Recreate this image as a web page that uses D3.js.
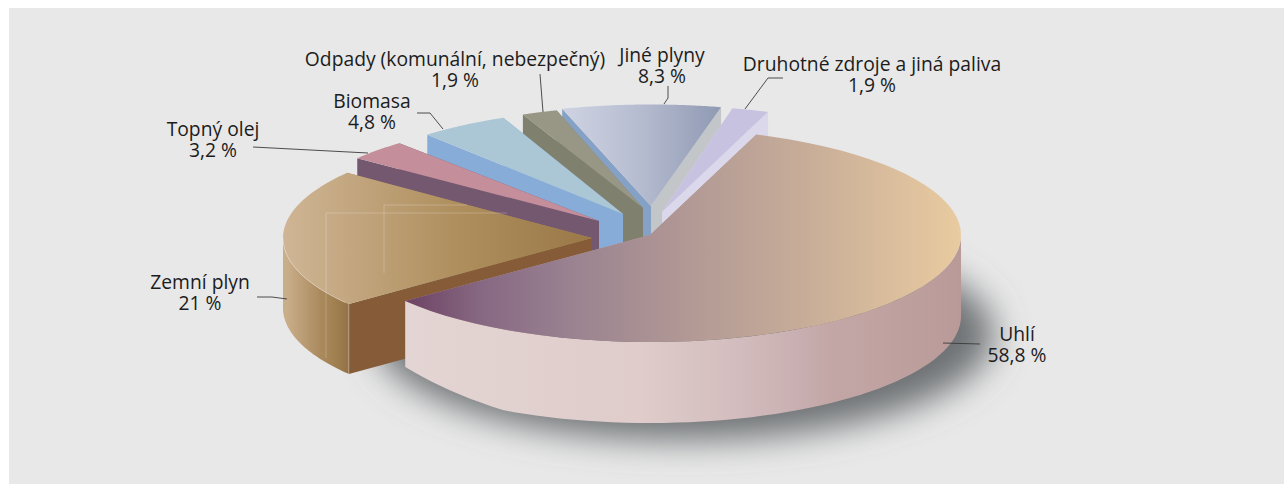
<!DOCTYPE html>
<html><head><meta charset="utf-8">
<script src="https://cdn.jsdelivr.net/npm/d3@7/dist/d3.min.js"></script>
<style>html,body{margin:0;padding:0;background:#fff}svg{display:block}</style>
</head><body><svg id="c" width="1284" height="484"></svg>
<script>
const categories = ["Uhlí","Zemní plyn","Topný olej","Biomasa","Odpady (komunální, nebezpečný)","Jiné plyny","Druhotné zdroje a jiná paliva"];
const shareLabels = ["58,8 %","21 %","3,2 %","4,8 %","1,9 %","8,3 %","1,9 %"];
const shares = [58.8,21,3.2,4.8,1.9,8.3,1.9];

// layout (separate from the data)
const centerX = [650,592,599,623,643,651,662];
const centerY = [235,238,221,214,208,206,212];
const radiusX = [311,309,305,299,300,308,310];
const radiusY = [107,107,103,105,102,101.5,106.5];
const depths  = [81,70,80,80,80,80,80];
const paintOrder = [5,6,4,3,2,1,0];
const labelX = [1017,200,213,372,455,662,872];
const labelY = [341,289,136,108,66,62,71];
const leaders = [
 [[943,343],[980,344]],
 [[257,297],[272,297],[287,299]],
 [[253,147],[368,153]],
 [[417,113],[430,113],[443,129]],
 [[540,74],[543,112]],
 [[668,86],[668,98],[664,104]],
 [[783,78],[768,78],[745,109]]
];
const topStops = [
 [[410,"#6f4565"],[480,"#866882"],[570,"#9a8291"],[700,"#b49b95"],[800,"#c6ac98"],[900,"#dcbf9d"],[961,"#e9cba0"]],
 [[285,"#cfb595"],[450,"#b0905f"],[592,"#9a7848"]],
 [[355,"#c48e9b"],[600,"#c48e9b"]],
 [[426,"#abc7d5"],[623,"#abc7d5"]],
 [[521,"#989684"],[644,"#989684"]],
 [[562,"#cfd3e3"],[640,"#b6bcd0"],[722,"#8f99b3"]],
 [[662,"#c7c2e0"],[767,"#c7c2e0"]]
];
const wallStops = [
 [[410,"#e3d5d3"],[640,"#dfcccb"],[740,"#d3bcbd"],[800,"#c8aeb0"],[830,"#c3a7a6"],[961,"#b99a98"]],
 [[287,"#c9ae8a"],[320,"#ab8a5e"],[335,"#a18050"],[348,"#937347"]],
 [[0,"#745870"],[1,"#745870"]],[[0,"#88acd8"],[1,"#88acd8"]],[[0,"#80806f"],[1,"#80806f"]],[[0,"#85a2c6"],[1,"#85a2c6"]],[[0,"#dcd8ec"],[1,"#dcd8ec"]]
];
// colour of the cut faces: [face at start angle, face at end angle]
const faceFill = [["#b99a98","#b99a98"],["#865b37","#a5855a"],["#745870","#745870"],["#88acd8","#88acd8"],["#80806f","#80806f"],["#85a2c6","#c3c6c8"],["#dcd8ec","#dcd8ec"]];

const svg = d3.select("#c");
const defs = svg.append("defs");
const rad = d => d*Math.PI/180;
const pie = d3.pie().sort(null).startAngle(rad(20)).endAngle(rad(380));
const arcs = pie(shares);

function grad(id, stops){
  const x0 = stops[0][0], x1 = stops[stops.length-1][0];
  const g = defs.append("linearGradient").attr("id",id).attr("gradientUnits","userSpaceOnUse")
    .attr("x1",x0).attr("x2",x1).attr("y1",0).attr("y2",0);
  stops.forEach(s=>g.append("stop").attr("offset",(s[0]-x0)/(x1-x0)).attr("stop-color",s[1]));
}
topStops.forEach((s,i)=>grad("top"+i,s));
wallStops.forEach((s,i)=>grad("wall"+i,s));
const bl1 = defs.append("filter").attr("id","b1").attr("x","-30%").attr("y","-50%").attr("width","160%").attr("height","200%");
bl1.append("feGaussianBlur").attr("stdDeviation",17);

svg.append("rect").attr("x",9).attr("y",8).attr("width",1275).attr("height",476).attr("fill","#e8e8e8");

const line = d3.line();
function rimPoint(i,a){
  const x = d3.scaleLinear().domain([-1,1]).range([centerX[i]-radiusX[i],centerX[i]+radiusX[i]]);
  const y = d3.scaleLinear().domain([-1,1]).range([centerY[i]+radiusY[i],centerY[i]-radiusY[i]]);
  return [x(Math.sin(a)),y(Math.cos(a))];
}
function depthAt(i,a){
  if(i!==0) return depths[i];
  const t = Math.max(0,Math.min(1,(a-rad(208))/(rad(231.7)-rad(208))));
  return depths[i]-15*t;
}
const samples = (a0,a1) => d3.range(0,61).map(k=>a0+(a1-a0)*k/60);

// ground shadow
svg.append("ellipse").attr("cx",684).attr("cy",334).attr("rx",310).attr("ry",106).attr("fill","#6e7275").attr("filter","url(#b1)");

const pieG = svg.append("g");
paintOrder.forEach(i=>{
  const d = arcs[i], g = pieG.append("g"), a0=d.startAngle, a1=d.endAngle, h=depths[i];
  const apex=[centerX[i],centerY[i]], p0=rimPoint(i,a0), p1=rimPoint(i,a1);
  const down=(p,dd)=>[p[0],p[1]+dd];
  // cut faces
  g.append("path").attr("d",line([apex,p1,down(p1,depthAt(i,a1)),down(apex,h)])+"Z").attr("fill",faceFill[i][1]);
  g.append("path").attr("d",line([apex,p0,down(p0,depthAt(i,a0)),down(apex,h)])+"Z").attr("fill",faceFill[i][0]);
  // front-facing rim wall
  const w0=Math.max(a0,rad(90)), w1=Math.min(a1,rad(270));
  if(w1>w0){
    const top=samples(w0,w1).map(a=>rimPoint(i,a));
    const bot=samples(w1,w0).map(a=>down(rimPoint(i,a),depthAt(i,a)));
    g.append("path").attr("d",line(top.concat(bot))+"Z").attr("fill",`url(#wall${i})`);
  }
  // top face
  const rim=samples(a0,a1).map(a=>rimPoint(i,a));
  g.append("path").attr("d",line([apex].concat(rim))+"Z").attr("fill",`url(#top${i})`);
  if(i===1){
    // light highlights and faint artefact lines seen on the gas slice
    g.append("path").attr("d",line(samples(rad(233),rad(270)).map(a=>rimPoint(i,a)))).attr("fill","none").attr("stroke","#fff").attr("stroke-opacity",.3);
    g.append("path").attr("d",line([p0,down(p0,h)])).attr("stroke","#fff").attr("stroke-opacity",.3);
    g.append("path").attr("d","M326 358V213H507M384 273V205H467").attr("fill","none").attr("stroke","#fff").attr("stroke-opacity",.22);
  }
});

// leader lines
svg.append("g").selectAll("path").data(leaders).join("path")
  .attr("d",d=>line(d)).attr("fill","none").attr("stroke","#3a3a3a").attr("stroke-width",.9);

// labels
const txt = svg.append("g").attr("font-family","'Open Sans',sans-serif").attr("font-size",19.3).attr("fill","#1c1c1c").attr("text-anchor","middle");
categories.forEach((c,i)=>{
  txt.append("text").attr("x",labelX[i]).attr("y",labelY[i]).text(c);
  txt.append("text").attr("x",labelX[i]).attr("y",labelY[i]+21).text(shareLabels[i]);
});
</script></body></html>
